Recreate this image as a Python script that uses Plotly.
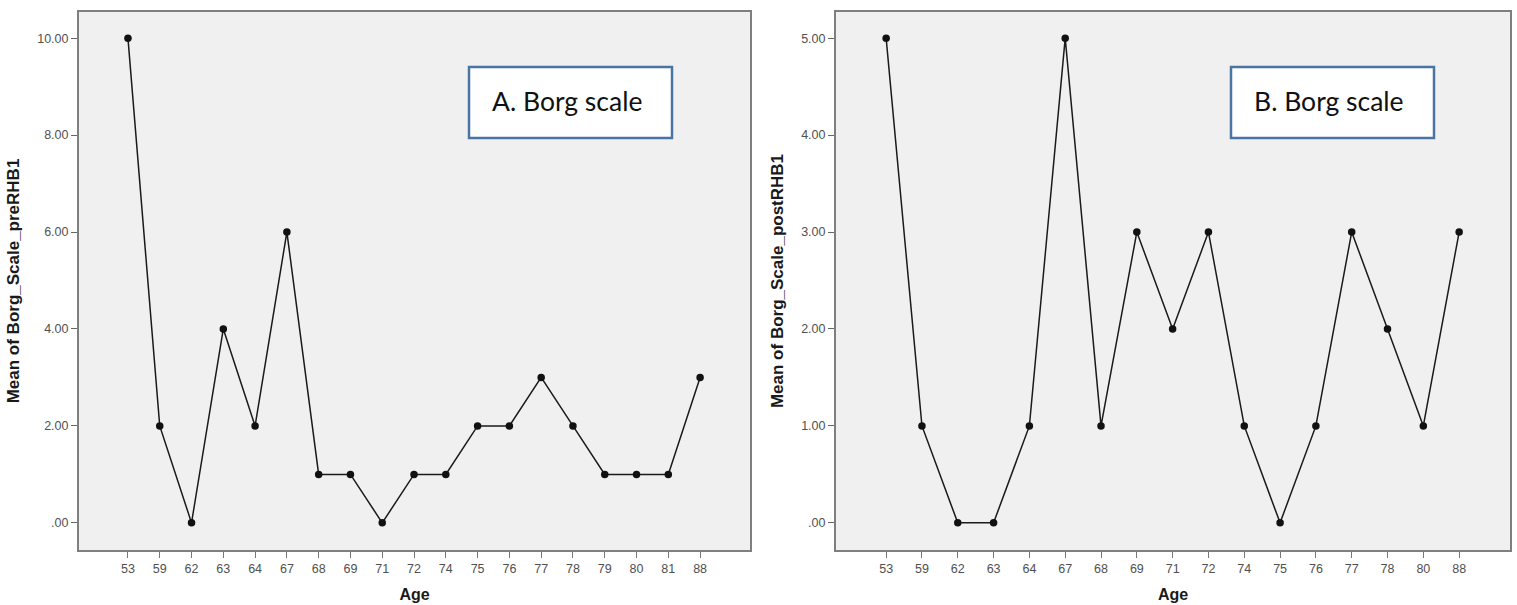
import plotly.graph_objects as go

# Mean Borg scale by age, before and after rehabilitation
ages_pre = ["53", "59", "62", "63", "64", "67", "68", "69", "71", "72",
            "74", "75", "76", "77", "78", "79", "80", "81", "88"]
borg_pre = [10, 2, 0, 4, 2, 6, 1, 1, 0, 1, 1, 2, 2, 3, 2, 1, 1, 1, 3]

ages_post = ["53", "59", "62", "63", "64", "67", "68", "69", "71", "72",
             "74", "75", "76", "77", "78", "80", "88"]
borg_post = [5, 1, 0, 0, 1, 5, 1, 3, 2, 3, 1, 0, 1, 3, 2, 1, 3]

yticks_pre = [0, 2, 4, 6, 8, 10]
ylabels_pre = [".00", "2.00", "4.00", "6.00", "8.00", "10.00"]
yticks_post = [0, 1, 2, 3, 4, 5]
ylabels_post = [".00", "1.00", "2.00", "3.00", "4.00", "5.00"]

W, H = 1517, 605


def px_x(v):
    return v / W


def px_y(v):
    return 1 - v / H


fig = go.Figure()

line_style = dict(color="#1a1a1a", width=1.5)
marker_style = dict(color="#111111", size=7.5, symbol="circle")

fig.add_trace(go.Scatter(x=ages_pre, y=borg_pre, mode="lines+markers",
                         line=line_style, marker=marker_style,
                         xaxis="x", yaxis="y", showlegend=False))
fig.add_trace(go.Scatter(x=ages_post, y=borg_post, mode="lines+markers",
                         line=line_style, marker=marker_style,
                         xaxis="x2", yaxis="y2", showlegend=False))

tick_font = dict(family="Liberation Sans, Arial, sans-serif", size=12.5, color="#505050")
title_font = dict(family="Liberation Sans, Arial, sans-serif", size=16, color="#1a1a1a")
ytitle_font = dict(family="Liberation Sans, Arial, sans-serif", size=17, color="#1a1a1a")

common_x = dict(type="category", showline=True, mirror=True, linecolor="#7f7f7f",
                linewidth=2, ticks="outside", ticklen=6, tickcolor="#777777",
                tickfont=tick_font, showgrid=False, zeroline=False,
                title=dict(text="<b>Age</b>", font=title_font, standoff=14))
common_y = dict(showline=True, mirror=True, linecolor="#7f7f7f", linewidth=2,
                ticks="outside", ticklen=6, tickcolor="#666666",
                tickfont=tick_font, showgrid=False, zeroline=False)

n_pre = len(ages_pre)
n_post = len(ages_post)

fig.update_layout(
    width=W, height=H,
    margin=dict(l=0, r=0, t=0, b=0),
    paper_bgcolor="white",
    plot_bgcolor="#f0f0f0",
    xaxis=dict(common_x, domain=[px_x(79), px_x(750)], anchor="y",
               range=[-1.54, n_pre - 1 + 1.57]),
    yaxis=dict(common_y, domain=[px_y(550), px_y(12)], anchor="x",
               range=[-0.56, 10.54], tickvals=yticks_pre, ticktext=ylabels_pre,
               title=dict(text="<b>Mean of Borg_Scale_preRHB1</b>", font=ytitle_font,
                          standoff=13)),
    xaxis2=dict(common_x, domain=[px_x(836), px_x(1510)], anchor="y2",
                range=[-1.40, n_post - 1 + 1.42]),
    yaxis2=dict(common_y, domain=[px_y(550), px_y(12)], anchor="x2",
                range=[-0.28, 5.27], tickvals=yticks_post, ticktext=ylabels_post,
                title=dict(text="<b>Mean of Borg_Scale_postRHB1</b>", font=ytitle_font,
                           standoff=13)),
)

# Panel labels in framed boxes
box_font = dict(family="Lato, Open Sans, sans-serif", size=26.5, color="#111111")
for x0, x1, label in [(469, 672, "A. Borg scale"), (1231, 1434, "B. Borg scale")]:
    fig.add_shape(type="rect", xref="paper", yref="paper",
                  x0=px_x(x0), x1=px_x(x1), y0=px_y(138), y1=px_y(67),
                  fillcolor="white", line=dict(color="#4a74a4", width=2.5))
    fig.add_annotation(xref="paper", yref="paper", x=px_x(x0 + 21), y=px_y(101),
                       xanchor="left", yanchor="middle", text=label,
                       showarrow=False, font=box_font)

fig.write_html("out.html")
